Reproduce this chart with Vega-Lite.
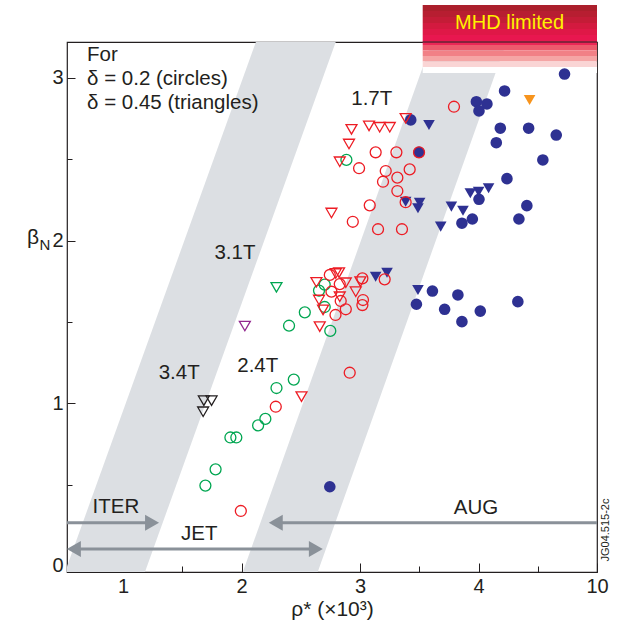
{
  "$schema": "https://vega.github.io/schema/vega-lite/v6.json",
  "width": 530,
  "height": 530,
  "autosize": {"type": "none"},
  "padding": {"left": 67, "top": 42, "right": 23, "bottom": 53},
  "background": "white",
  "config": {
    "font": "Liberation Sans",
    "view": {"stroke": "#231f20", "strokeWidth": 1.2},
    "axis": {"domain": false, "grid": false, "tickColor": "#231f20", "labelColor": "#231f20", "labelFontSize": 20, "labelFont": "Liberation Sans", "titleFont": "Liberation Sans", "titleColor": "#231f20"}
  },
  "datasets": {
    "bands": [
      {"band": "b1", "y": -0.037, "xl": 0.510, "xr": 1.185},
      {"band": "b1", "y": 3.221, "xl": 2.121, "xr": 2.795},
      {"band": "b2", "y": -0.037, "xl": 2.011, "xr": 2.643},
      {"band": "b2", "y": 3.221, "xl": 3.605, "xr": 4.237}
    ],
    "arrows": [
      {"name": "ITER", "x1": 0.527, "x2": 1.235, "y": 0.266},
      {"name": "JET", "x1": 0.56, "x2": 2.64, "y": 0.104},
      {"name": "AUG", "x1": 2.28, "x2": 5.0, "y": 0.266}
    ],
    "headsRight": [
      {"name": "ITER", "x": 1.245, "y": 0.266},
      {"name": "JET", "x": 2.627, "y": 0.104}
    ],
    "headsLeft": [
      {"name": "JET", "x": 0.585, "y": 0.104},
      {"name": "AUG", "x": 2.289, "y": 0.266}
    ],
    "filled": [
      {"x": 4.726, "y": 3.024, "c": "blue", "s": "circle"},
      {"x": 4.220, "y": 2.920, "c": "blue", "s": "circle"},
      {"x": 3.982, "y": 2.854, "c": "blue", "s": "circle"},
      {"x": 4.071, "y": 2.840, "c": "blue", "s": "circle"},
      {"x": 4.004, "y": 2.797, "c": "blue", "s": "circle"},
      {"x": 3.428, "y": 2.742, "c": "blue", "s": "circle"},
      {"x": 4.184, "y": 2.691, "c": "blue", "s": "circle"},
      {"x": 4.423, "y": 2.691, "c": "blue", "s": "circle"},
      {"x": 4.656, "y": 2.649, "c": "blue", "s": "circle"},
      {"x": 4.150, "y": 2.602, "c": "blue", "s": "circle"},
      {"x": 3.498, "y": 2.543, "c": "blue", "s": "circle"},
      {"x": 4.543, "y": 2.496, "c": "blue", "s": "circle"},
      {"x": 4.240, "y": 2.381, "c": "blue", "s": "circle"},
      {"x": 4.004, "y": 2.254, "c": "blue", "s": "circle"},
      {"x": 4.408, "y": 2.215, "c": "blue", "s": "circle"},
      {"x": 3.948, "y": 2.133, "c": "blue", "s": "circle"},
      {"x": 3.860, "y": 2.107, "c": "blue", "s": "circle"},
      {"x": 4.341, "y": 2.133, "c": "blue", "s": "circle"},
      {"x": 3.611, "y": 1.690, "c": "blue", "s": "circle"},
      {"x": 3.826, "y": 1.666, "c": "blue", "s": "circle"},
      {"x": 3.476, "y": 1.609, "c": "blue", "s": "circle"},
      {"x": 3.714, "y": 1.578, "c": "blue", "s": "circle"},
      {"x": 4.015, "y": 1.567, "c": "blue", "s": "circle"},
      {"x": 3.860, "y": 1.502, "c": "blue", "s": "circle"},
      {"x": 4.332, "y": 1.625, "c": "blue", "s": "circle"},
      {"x": 2.745, "y": 0.487, "c": "blue", "s": "circle"},
      {"x": 3.582, "y": 2.711, "c": "blue", "s": "triangle"},
      {"x": 3.931, "y": 2.291, "c": "blue", "s": "triangle"},
      {"x": 4.001, "y": 2.301, "c": "blue", "s": "triangle"},
      {"x": 4.085, "y": 2.322, "c": "blue", "s": "triangle"},
      {"x": 3.385, "y": 2.239, "c": "blue", "s": "triangle"},
      {"x": 3.503, "y": 2.233, "c": "blue", "s": "triangle"},
      {"x": 3.489, "y": 2.199, "c": "blue", "s": "triangle"},
      {"x": 3.771, "y": 2.209, "c": "blue", "s": "triangle"},
      {"x": 3.869, "y": 2.184, "c": "blue", "s": "triangle"},
      {"x": 3.681, "y": 2.086, "c": "blue", "s": "triangle"},
      {"x": 3.132, "y": 1.778, "c": "blue", "s": "triangle"},
      {"x": 3.228, "y": 1.803, "c": "blue", "s": "triangle"},
      {"x": 3.489, "y": 1.696, "c": "blue", "s": "triangle"},
      {"x": 4.431, "y": 2.864, "c": "orange", "s": "triangle"}
    ],
    "open": [
      {"x": 2.885, "y": 2.496, "c": "green", "s": "circle"},
      {"x": 2.702, "y": 1.730, "c": "green", "s": "circle"},
      {"x": 2.654, "y": 1.693, "c": "green", "s": "circle"},
      {"x": 2.702, "y": 1.592, "c": "green", "s": "circle"},
      {"x": 2.534, "y": 1.559, "c": "green", "s": "circle"},
      {"x": 2.401, "y": 1.477, "c": "green", "s": "circle"},
      {"x": 2.749, "y": 1.445, "c": "green", "s": "circle"},
      {"x": 2.441, "y": 1.146, "c": "green", "s": "circle"},
      {"x": 2.295, "y": 1.094, "c": "green", "s": "circle"},
      {"x": 2.201, "y": 0.904, "c": "green", "s": "circle"},
      {"x": 2.140, "y": 0.864, "c": "green", "s": "circle"},
      {"x": 1.906, "y": 0.790, "c": "green", "s": "circle"},
      {"x": 1.956, "y": 0.790, "c": "green", "s": "circle"},
      {"x": 1.781, "y": 0.594, "c": "green", "s": "circle"},
      {"x": 1.695, "y": 0.494, "c": "green", "s": "circle"},
      {"x": 2.295, "y": 1.713, "c": "green", "s": "triangle"},
      {"x": 2.028, "y": 1.475, "c": "purple", "s": "triangle"},
      {"x": 1.682, "y": 1.016, "c": "black", "s": "triangle"},
      {"x": 1.747, "y": 1.016, "c": "black", "s": "triangle"},
      {"x": 1.676, "y": 0.948, "c": "black", "s": "triangle"},
      {"x": 3.385, "y": 2.752, "c": "red", "s": "triangle"},
      {"x": 2.928, "y": 2.684, "c": "red", "s": "triangle"},
      {"x": 3.076, "y": 2.705, "c": "red", "s": "triangle"},
      {"x": 3.166, "y": 2.697, "c": "red", "s": "triangle"},
      {"x": 3.251, "y": 2.697, "c": "red", "s": "triangle"},
      {"x": 2.907, "y": 2.594, "c": "red", "s": "triangle"},
      {"x": 2.829, "y": 2.485, "c": "red", "s": "triangle"},
      {"x": 2.759, "y": 2.170, "c": "red", "s": "triangle"},
      {"x": 2.632, "y": 1.744, "c": "red", "s": "triangle"},
      {"x": 2.823, "y": 1.803, "c": "red", "s": "triangle"},
      {"x": 2.880, "y": 1.741, "c": "red", "s": "triangle"},
      {"x": 3.003, "y": 1.748, "c": "red", "s": "triangle"},
      {"x": 2.964, "y": 1.686, "c": "red", "s": "triangle"},
      {"x": 2.654, "y": 1.635, "c": "red", "s": "triangle"},
      {"x": 2.688, "y": 1.574, "c": "red", "s": "triangle"},
      {"x": 2.660, "y": 1.471, "c": "red", "s": "triangle"},
      {"x": 2.829, "y": 1.655, "c": "red", "s": "triangle"},
      {"x": 2.795, "y": 1.798, "c": "red", "s": "triangle"},
      {"x": 2.506, "y": 1.041, "c": "red", "s": "triangle"},
      {"x": 3.793, "y": 2.823, "c": "red", "s": "circle"},
      {"x": 3.498, "y": 2.543, "c": "red", "s": "circle"},
      {"x": 3.132, "y": 2.543, "c": "red", "s": "circle"},
      {"x": 3.307, "y": 2.543, "c": "red", "s": "circle"},
      {"x": 2.992, "y": 2.445, "c": "red", "s": "circle"},
      {"x": 3.217, "y": 2.428, "c": "red", "s": "circle"},
      {"x": 3.419, "y": 2.438, "c": "red", "s": "circle"},
      {"x": 3.194, "y": 2.362, "c": "red", "s": "circle"},
      {"x": 3.315, "y": 2.387, "c": "red", "s": "circle"},
      {"x": 3.315, "y": 2.305, "c": "red", "s": "circle"},
      {"x": 3.385, "y": 2.236, "c": "red", "s": "circle"},
      {"x": 3.082, "y": 2.217, "c": "red", "s": "circle"},
      {"x": 2.939, "y": 2.116, "c": "red", "s": "circle"},
      {"x": 3.152, "y": 2.070, "c": "red", "s": "circle"},
      {"x": 3.354, "y": 2.070, "c": "red", "s": "circle"},
      {"x": 3.208, "y": 1.762, "c": "red", "s": "circle"},
      {"x": 2.745, "y": 1.789, "c": "red", "s": "circle"},
      {"x": 2.829, "y": 1.733, "c": "red", "s": "circle"},
      {"x": 2.759, "y": 1.686, "c": "red", "s": "circle"},
      {"x": 3.020, "y": 1.768, "c": "red", "s": "circle"},
      {"x": 3.025, "y": 1.635, "c": "red", "s": "circle"},
      {"x": 3.020, "y": 1.604, "c": "red", "s": "circle"},
      {"x": 2.880, "y": 1.578, "c": "red", "s": "circle"},
      {"x": 2.793, "y": 1.543, "c": "red", "s": "circle"},
      {"x": 2.837, "y": 1.629, "c": "red", "s": "circle"},
      {"x": 2.913, "y": 1.188, "c": "red", "s": "circle"},
      {"x": 2.289, "y": 0.979, "c": "red", "s": "circle"},
      {"x": 1.994, "y": 0.338, "c": "red", "s": "circle"}
    ],
    "mhd": [
      {"x1": 3.529, "x2": 5.0, "y1": 3.448, "y2": 3.412, "col": "#ab1f2c"},
      {"x1": 3.529, "x2": 5.0, "y1": 3.412, "y2": 3.375, "col": "#b71e31"},
      {"x1": 3.529, "x2": 5.0, "y1": 3.375, "y2": 3.338, "col": "#c41c37"},
      {"x1": 3.529, "x2": 5.0, "y1": 3.338, "y2": 3.301, "col": "#d31a3f"},
      {"x1": 3.529, "x2": 5.0, "y1": 3.301, "y2": 3.264, "col": "#df1847"},
      {"x1": 3.529, "x2": 5.0, "y1": 3.264, "y2": 3.227, "col": "#e8174f"},
      {"x1": 3.529, "x2": 5.0, "y1": 3.227, "y2": 3.203, "col": "#ec2656"},
      {"x1": 3.529, "x2": 5.0, "y1": 3.203, "y2": 3.169, "col": "#ee5a6d"},
      {"x1": 3.529, "x2": 5.0, "y1": 3.169, "y2": 3.135, "col": "#f18086"},
      {"x1": 3.529, "x2": 5.0, "y1": 3.135, "y2": 3.101, "col": "#f5a5a5"},
      {"x1": 3.529, "x2": 5.0, "y1": 3.101, "y2": 3.067, "col": "#fad5d5"},
      {"x1": 3.529, "x2": 5.0, "y1": 3.067, "y2": 3.030, "col": "#ffffff"}
    ],
    "notesLeft": [
      {"t": "For", "x": 0.696, "y": 3.141},
      {"t": "δ = 0.2 (circles)", "x": 0.696, "y": 2.994},
      {"t": "δ = 0.45 (triangles)", "x": 0.696, "y": 2.846}
    ],
    "notesCenter": [
      {"t": "1.7T", "x": 3.099, "y": 2.871},
      {"t": "3.1T", "x": 1.944, "y": 1.924},
      {"t": "2.4T", "x": 2.137, "y": 1.229},
      {"t": "3.4T", "x": 1.474, "y": 1.188},
      {"t": "ITER", "x": 0.940, "y": 0.364},
      {"t": "JET", "x": 1.643, "y": 0.197},
      {"t": "AUG", "x": 3.979, "y": 0.356}
    ]
  },
  "layer": [
    {
      "data": {"name": "bands"},
      "mark": {"type": "area", "orient": "horizontal", "color": "#dcdfe3", "clip": true, "opacity": 1},
      "encoding": {
        "detail": {"field": "band"},
        "y": {"field": "y", "type": "quantitative", "scale": {"domain": [-0.037, 3.221], "nice": false, "zero": false},
          "axis": {"values": [0, 0.5, 1, 1.5, 2, 2.5, 3], "format": ".0f", "labelExpr": "datum.value % 1 === 0 ? datum.label : ''", "tickSize": {"condition": {"test": "datum.value % 1 === 0", "value": -8}, "value": -5}, "labelPadding": 12, "title": null}},
        "x": {"field": "xl", "type": "quantitative", "scale": {"domain": [0.527, 5.0], "nice": false, "zero": false},
          "axis": {"values": [1, 1.5, 2, 2.5, 3, 3.5, 4, 4.5, 5], "format": ".0f", "labelExpr": "datum.value === 5 ? '10' : (datum.value % 1 === 0 ? datum.label : '')", "labelFlush": false, "tickSize": {"condition": {"test": "datum.value % 1 === 0", "value": -9}, "value": -6}, "labelPadding": 13, "title": "ρ* (×10³)", "titleFontSize": 21, "titleFontWeight": "normal", "titlePadding": 2}},
        "x2": {"field": "xr"}
      }
    },
    {
      "data": {"name": "mhd"},
      "mark": {"type": "rect", "clip": false},
      "encoding": {
        "x": {"field": "x1", "type": "quantitative"},
        "x2": {"field": "x2"},
        "y": {"field": "y1", "type": "quantitative"},
        "y2": {"field": "y2"},
        "color": {"field": "col", "type": "nominal", "scale": null}
      }
    },
    {
      "data": {"values": [{"x1": 3.529, "x2": 5.0, "y": 3.221}]},
      "mark": {"type": "rule", "color": "#231f20", "strokeWidth": 1.2, "clip": false},
      "encoding": {
        "x": {"field": "x1", "type": "quantitative"},
        "x2": {"field": "x2"},
        "y": {"field": "y", "type": "quantitative"}
      }
    },
    {
      "data": {"values": [{"t": "MHD limited", "x": 4.262, "y": 3.34}]},
      "mark": {"type": "text", "color": "#fff200", "fontSize": 20, "align": "center", "baseline": "middle", "clip": false},
      "encoding": {
        "x": {"field": "x", "type": "quantitative"},
        "y": {"field": "y", "type": "quantitative"},
        "text": {"field": "t"}
      }
    },
    {
      "data": {"name": "arrows"},
      "mark": {"type": "rule", "color": "#8a9199", "strokeWidth": 3},
      "encoding": {
        "x": {"field": "x1", "type": "quantitative"},
        "x2": {"field": "x2"},
        "y": {"field": "y", "type": "quantitative"}
      }
    },
    {
      "data": {"name": "headsRight"},
      "mark": {"type": "point", "filled": true, "color": "#8a9199", "opacity": 1, "size": 260, "shape": "triangle-right"},
      "encoding": {
        "x": {"field": "x", "type": "quantitative"},
        "y": {"field": "y", "type": "quantitative"}
      }
    },
    {
      "data": {"name": "headsLeft"},
      "mark": {"type": "point", "filled": true, "color": "#8a9199", "opacity": 1, "size": 260, "shape": "triangle-left"},
      "encoding": {
        "x": {"field": "x", "type": "quantitative"},
        "y": {"field": "y", "type": "quantitative"}
      }
    },
    {
      "data": {"name": "filled"},
      "mark": {"type": "point", "filled": true, "opacity": 1, "size": 135},
      "encoding": {
        "x": {"field": "x", "type": "quantitative"},
        "y": {"field": "y", "type": "quantitative"},
        "color": {"field": "c", "type": "nominal", "scale": {"domain": ["blue", "orange", "red", "green", "purple", "black"], "range": ["#2e3192", "#f7941d", "#ed1c24", "#00a651", "#92278f", "#231f20"]}, "legend": null},
        "shape": {"field": "s", "type": "nominal", "scale": {"domain": ["circle", "triangle"], "range": ["circle", "triangle-down"]}, "legend": null}
      }
    },
    {
      "data": {"name": "open"},
      "mark": {"type": "point", "filled": false, "opacity": 1, "size": 120, "strokeWidth": 1.3},
      "encoding": {
        "x": {"field": "x", "type": "quantitative"},
        "y": {"field": "y", "type": "quantitative"},
        "color": {"field": "c", "type": "nominal", "scale": {"domain": ["blue", "orange", "red", "green", "purple", "black"], "range": ["#2e3192", "#f7941d", "#ed1c24", "#00a651", "#92278f", "#231f20"]}, "legend": null},
        "shape": {"field": "s", "type": "nominal", "scale": {"domain": ["circle", "triangle"], "range": ["circle", "triangle-down"]}, "legend": null}
      }
    },
    {
      "data": {"name": "notesLeft"},
      "mark": {"type": "text", "color": "#231f20", "fontSize": 20.5, "align": "left", "baseline": "middle"},
      "encoding": {
        "x": {"field": "x", "type": "quantitative"},
        "y": {"field": "y", "type": "quantitative"},
        "text": {"field": "t"}
      }
    },
    {
      "data": {"name": "notesCenter"},
      "mark": {"type": "text", "color": "#231f20", "fontSize": 20.5, "align": "center", "baseline": "middle"},
      "encoding": {
        "x": {"field": "x", "type": "quantitative"},
        "y": {"field": "y", "type": "quantitative"},
        "text": {"field": "t"}
      }
    },
    {
      "data": {"values": [{"t": "β", "x": 0.240, "y": 2.016}]},
      "mark": {"type": "text", "color": "#231f20", "fontSize": 21, "align": "center", "baseline": "middle", "clip": false},
      "encoding": {
        "x": {"field": "x", "type": "quantitative"},
        "y": {"field": "y", "type": "quantitative"},
        "text": {"field": "t"}
      }
    },
    {
      "data": {"values": [{"t": "N", "x": 0.341, "y": 1.972}]},
      "mark": {"type": "text", "color": "#231f20", "fontSize": 15, "align": "center", "baseline": "middle", "clip": false},
      "encoding": {
        "x": {"field": "x", "type": "quantitative"},
        "y": {"field": "y", "type": "quantitative"},
        "text": {"field": "t"}
      }
    },
    {
      "data": {"values": [{"t": "JG04.515-2c", "x": 5.072, "y": 0.221}]},
      "mark": {"type": "text", "color": "#231f20", "fontSize": 11, "angle": 270, "align": "center", "baseline": "middle", "clip": false},
      "encoding": {
        "x": {"field": "x", "type": "quantitative"},
        "y": {"field": "y", "type": "quantitative"},
        "text": {"field": "t"}
      }
    }
  ]
}
